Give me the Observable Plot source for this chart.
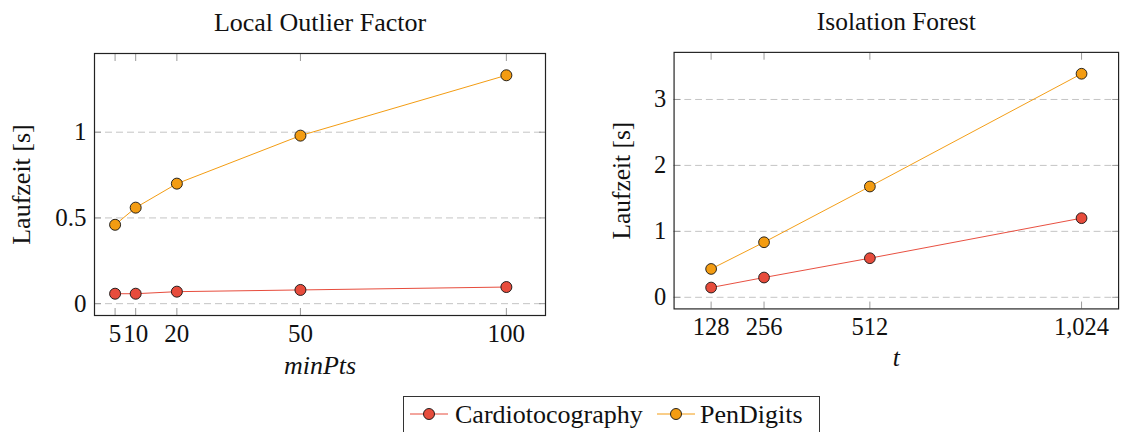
<!DOCTYPE html>
<html><head><meta charset="utf-8">
<script src="https://cdn.jsdelivr.net/npm/d3@7"></script>
<script src="https://cdn.jsdelivr.net/npm/@observablehq/plot@0.6"></script>
<style>
html,body{margin:0;padding:0;background:#fff;}
body{width:1123px;height:432px;overflow:hidden;position:relative;}
.panel{position:absolute;top:0;}
.panel svg{overflow:visible;}
g[aria-label="x-axis label"] text{font-style:italic;}
#legend{position:absolute;left:0;top:0;}
</style>
</head><body>
<div id="p1" class="panel" style="left:0px"></div>
<div id="p2" class="panel" style="left:560px"></div>
<svg id="legend" width="1123" height="432"></svg>
<script>
const FONT = "Liberation Serif";
const series = ["Cardiotocography", "PenDigits"];
const colors = ["#e74c3c", "#f39c12"];

// Local Outlier Factor
const lofMinPts = [5, 10, 20, 50, 100];
const lofCardio = [0.058, 0.058, 0.070, 0.080, 0.097];
const lofPen = [0.46, 0.56, 0.70, 0.98, 1.332];
const lofYTicks = [0, 0.5, 1];

// Isolation Forest
const ifT = [128, 256, 512, 1024];
const ifCardio = [0.148, 0.30, 0.593, 1.20];
const ifPen = [0.43, 0.835, 1.68, 3.39];
const ifYTicks = [0, 1, 2, 3];

const yFmt = d => String(d);

function panel(el, o) {
  const rows = [
    ...o.xs.map((x, i) => ({x, y: o.cardio[i], s: series[0]})),
    ...o.xs.map((x, i) => ({x, y: o.pen[i], s: series[1]}))
  ];
  const chart = Plot.plot({
    width: o.width, height: 390,
    marginTop: 53, marginBottom: 75, marginLeft: o.marginLeft, marginRight: o.marginRight,
    style: {fontFamily: FONT, fontSize: "26px", color: "#111", background: "transparent"},
    x: {domain: o.xDomain},
    y: {domain: o.yDomain},
    color: {domain: series, range: colors},
    marks: [
      Plot.gridY(o.yTicks, {stroke: "#c4c4c4", strokeOpacity: 1, strokeDasharray: "7,4"}),
      Plot.axisY({ticks: o.yTicks, anchor: "left", tickSize: 0, tickPadding: 8, fontSize: 25, tickFormat: yFmt,
        label: null}),
      Plot.axisY({ticks: o.yTicks, anchor: "left", tickSize: -7, tickFormat: () => "", fontSize: 26,
        label: "Laufzeit [s]", labelAnchor: "center", labelArrow: "none", labelOffset: o.yLabelOffset, stroke: "#999"}),
      Plot.axisY({ticks: o.yTicks, anchor: "right", tickSize: -7, tickFormat: () => "", label: null, stroke: "#999"}),
      Plot.axisX({ticks: o.xs, anchor: "bottom", tickSize: 0, tickPadding: 9, tickFormat: o.xFormat, fontSize: 25,
        label: null}),
      Plot.axisX({ticks: o.xs, anchor: "bottom", tickSize: -7, tickFormat: () => "", fontSize: 26,
        label: o.xLabel, labelAnchor: "center", labelArrow: "none", labelOffset: 58, stroke: "#999"}),
      Plot.axisX({ticks: o.xs, anchor: "top", tickSize: -7, tickFormat: () => "", label: null, stroke: "#999"}),
      Plot.frame({stroke: "#222", strokeWidth: 1.2}),
      Plot.line(rows, {x: "x", y: "y", z: "s", stroke: "s", strokeWidth: 1}),
      Plot.dot(rows, {x: "x", y: "y", fill: "s", stroke: "#111", strokeWidth: 0.9, r: 5.5}),
      Plot.text([o.title], {frameAnchor: "top", dy: -31, lineAnchor: "middle", fontSize: 26, fill: "#111"})
    ]
  });
  el.appendChild(chart);
}

panel(document.getElementById("p1"), {
  xs: lofMinPts, cardio: lofCardio, pen: lofPen, yTicks: lofYTicks,
  xDomain: [0, 109.5], yDomain: [-0.069, 1.459],
  xFormat: d3.format("d"), xLabel: "minPts", title: "Local Outlier Factor",
  width: 560, marginLeft: 94, marginRight: 15, yLabelOffset: 83
});
panel(document.getElementById("p2"), {
  xs: ifT, cardio: ifCardio, pen: ifPen, yTicks: ifYTicks,
  xDomain: [38.4, 1113.6], yDomain: [-0.176, 3.714],
  xFormat: d3.format(","), xLabel: "t", title: "Isolation Forest",
  width: 575, marginLeft: 116, marginRight: 5, yLabelOffset: 63
});

// legend
const lg = d3.select("#legend");
lg.append("rect").attr("x", 403.5).attr("y", 396.5).attr("width", 416).attr("height", 60)
  .attr("fill", "#fff").attr("stroke", "#333").attr("stroke-width", 1);
const items = [
  {x0: 410, cx: 429, tx: 455},
  {x0: 657, cx: 676, tx: 700}
];
items.forEach((it, i) => {
  lg.append("line").attr("x1", it.x0).attr("x2", it.x0 + 38).attr("y1", 414).attr("y2", 414)
    .attr("stroke", colors[i]).attr("stroke-width", 1);
  lg.append("circle").attr("cx", it.cx).attr("cy", 414).attr("r", 5.5)
    .attr("fill", colors[i]).attr("stroke", "#111").attr("stroke-width", 0.9);
  lg.append("text").attr("x", it.tx).attr("y", 423).attr("font-size", 26)
    .attr("fill", "#111").text(series[i]);
});
d3.selectAll("svg text").attr("font-family", FONT);
</script>
</body></html>
